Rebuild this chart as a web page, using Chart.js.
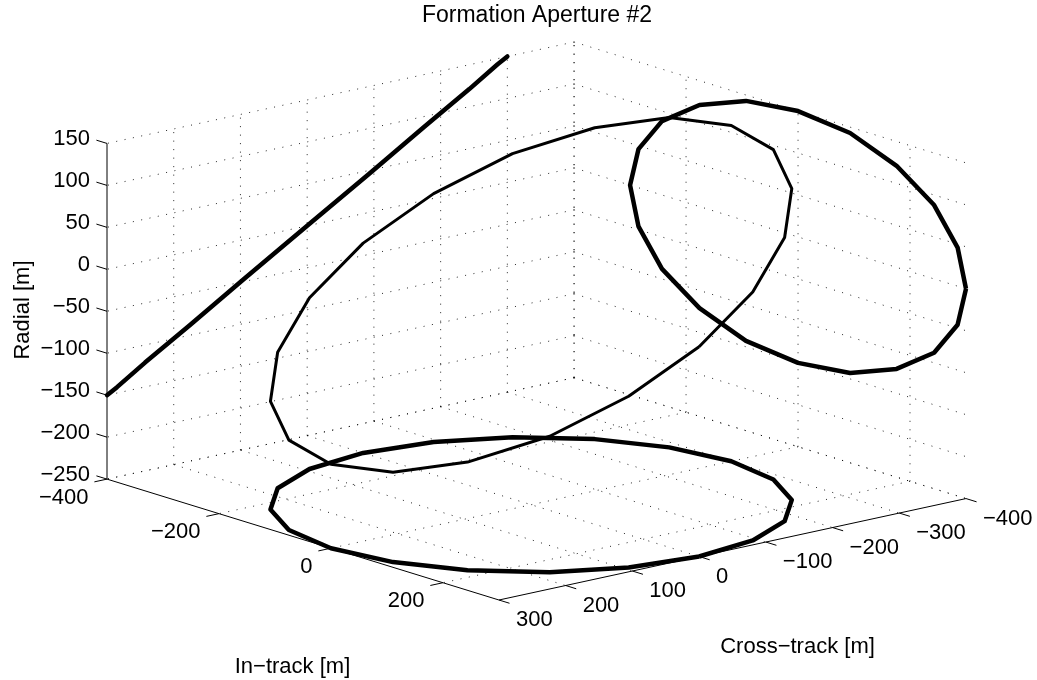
<!DOCTYPE html>
<html>
<head>
<meta charset="utf-8">
<script src="https://cdn.jsdelivr.net/npm/chart.js@4.4.0/dist/chart.umd.min.js"></script>
<style>
  html, body { margin: 0; padding: 0; background: #fff; }
  #wrap { width: 1037px; height: 680px; position: relative; }
</style>
</head>
<body>
<div id="wrap"><canvas id="c"></canvas></div>
<script>
// Relative orbit over one revolution, sampled every 18 degrees
const inTrack    = [300, 285, 243, 176, 93, 0, -93, -176, -243, -285, -300, -285, -243, -176, -93, 0, 93, 176, 243, 285, 300];
const crossTrack = [0, 93, 176, 243, 285, 300, 285, 243, 176, 93, 0, -93, -176, -243, -285, -300, -285, -243, -176, -93, 0];
const radial     = [0, -46, -88, -121, -143, -150, -143, -121, -88, -46, 0, 46, 88, 121, 143, 150, 143, 121, 88, 46, 0];

// Axis limits and ticks
const inTrackLim    = [-400, 300];
const crossTrackLim = [-400, 300];
const radialLim     = [-250, 150];
const inTrackTicks    = [-400, -200, 0, 200];
const crossTrackTicks = [-400, -300, -200, -100, 0, 100, 200, 300];
const radialTicks     = [-250, -200, -150, -100, -50, 0, 50, 100, 150];

// Texts
const titleText       = 'Formation Aperture #2';
const inTrackTitle    = 'In\u2212track [m]';
const crossTrackTitle = 'Cross\u2212track [m]';
const radialTitle     = 'Radial [m]';

// Camera: azimuth / elevation in degrees, plot-box aspect (in-track, cross-track, radial)
const AZ = 50, EL = 15;
const BOX = [1, 1, 0.57];
const DEG = Math.PI / 180;

function project(x, y, z) {
  const a = (x - inTrackLim[0]) / (inTrackLim[1] - inTrackLim[0]);
  const b = (crossTrackLim[1] - y) / (crossTrackLim[1] - crossTrackLim[0]);
  const c = (z - radialLim[0]) / (radialLim[1] - radialLim[0]);
  const ca = Math.cos(AZ * DEG), sa = Math.sin(AZ * DEG);
  const ce = Math.cos(EL * DEG), se = Math.sin(EL * DEG);
  return {
    x: BOX[0] * a * ca + BOX[1] * b * sa,
    y: -BOX[0] * a * sa * se + BOX[1] * b * ca * se + BOX[2] * c * ce
  };
}

// Projected extent of the plot box
const corners = [];
for (const x of inTrackLim) for (const y of crossTrackLim) for (const z of radialLim) corners.push(project(x, y, z));
const hMin = Math.min(...corners.map(p => p.x)), hMax = Math.max(...corners.map(p => p.x));
const vMin = Math.min(...corners.map(p => p.y)), vMax = Math.max(...corners.map(p => p.y));

const datasets = [];
const gridStyle = { borderColor: 'rgba(0,0,0,0.85)', borderWidth: 1, borderDash: [1, 7.5], order: 3 };
const axisStyle = { borderColor: '#000', borderWidth: 1, order: 2 };

function addLine(pts, style) {
  datasets.push(Object.assign({
    data: pts, showLine: true, pointRadius: 0, pointHoverRadius: 0,
    tension: 0, clip: false, fill: false, borderCapStyle: 'butt', borderJoinStyle: 'round'
  }, style));
}
function seg(p, q, style) { addLine([project(...p), project(...q)], style); }

const [x0, x1] = inTrackLim, [y0, y1] = crossTrackLim, [z0, z1] = radialLim;

// Floor grid (radial = min)
inTrackTicks.forEach(t => seg([t, y0, z0], [t, y1, z0], gridStyle));
crossTrackTicks.filter(t => t !== y1).forEach(t => seg([x0, t, z0], [x1, t, z0], gridStyle));
// Left back wall (in-track = min)
crossTrackTicks.filter(t => t !== y1).forEach(t => seg([x0, t, z0], [x0, t, z1], gridStyle));
radialTicks.forEach(t => seg([x0, y0, t], [x0, y1, t], gridStyle));
// Right back wall (cross-track = min)
inTrackTicks.forEach(t => seg([t, y0, z0], [t, y0, z1], gridStyle));
radialTicks.forEach(t => seg([x0, y0, t], [x1, y0, t], gridStyle));

// Axis lines and outward ticks
const TL = 0.027;
seg([x0, y1, z0], [x0, y1, z1], axisStyle);
seg([x0, y1, z0], [x1, y1, z0], axisStyle);
seg([x1, y1, z0], [x1, y0, z0], axisStyle);
radialTicks.forEach(t => seg([x0, y1, t], [x0 - TL * (x1 - x0), y1, t], axisStyle));
inTrackTicks.forEach(t => seg([t, y1, z0], [t, y1 + TL * (y1 - y0), z0], axisStyle));
crossTrackTicks.forEach(t => seg([x1, t, z0], [x1 + TL * (x1 - x0), t, z0], axisStyle));

// Projections of the orbit onto the floor and the two back walls
const thick = { borderColor: '#000', borderWidth: 4.5, order: 1 };
addLine(inTrack.map((v, i) => project(v, crossTrack[i], z0)), thick);
addLine(inTrack.map((v, i) => project(v, y0, radial[i])), thick);
addLine(inTrack.map((v, i) => project(x0, crossTrack[i], radial[i])), thick);
// The orbit itself
addLine(inTrack.map((v, i) => project(v, crossTrack[i], radial[i])), { borderColor: '#000', borderWidth: 3, order: 0 });

const FONT = '"Liberation Sans", Arial, Helvetica, sans-serif';
const fmt = v => (v < 0 ? '\u2212' + Math.abs(v) : String(v));

const textPlugin = {
  id: 'axisText',
  afterDraw(chart) {
    const ctx = chart.ctx, sx = chart.scales.x, sy = chart.scales.y;
    const px = (x, y, z) => { const p = project(x, y, z); return [sx.getPixelForValue(p.x), sy.getPixelForValue(p.y)]; };
    ctx.save();
    ctx.fillStyle = '#000';
    ctx.font = '22px ' + FONT;
    ctx.textBaseline = 'middle';
    // radial tick labels
    ctx.textAlign = 'right';
    radialTicks.forEach(t => { const [u, w] = px(x0, y1, t); ctx.fillText(fmt(t), u - 17, w - 4); });
    // in-track tick labels
    inTrackTicks.forEach(t => { const [u, w] = px(t, y1, z0); ctx.fillText(fmt(t), u - 18.5, w + 18.5); });
    // cross-track tick labels
    ctx.textAlign = 'left';
    crossTrackTicks.forEach(t => { const [u, w] = px(x1, t, z0); ctx.fillText(fmt(t), u + 17, w + 20); });
    // axis titles
    ctx.textAlign = 'center';
    ctx.fillText(inTrackTitle, 292.5, 667);
    ctx.fillText(crossTrackTitle, 797.5, 647);
    ctx.save();
    ctx.translate(22.5, 310);
    ctx.rotate(-Math.PI / 2);
    ctx.fillText(radialTitle, 0, 0);
    ctx.restore();
    ctx.font = '23px ' + FONT;
    ctx.fillText(titleText, 537, 16);
    ctx.restore();
  }
};

new Chart(document.getElementById('c'), {
  type: 'scatter',
  data: { datasets },
  options: {
    responsive: true,
    maintainAspectRatio: false,
    animation: false,
    events: [],
    layout: { autoPadding: false, padding: { left: 107, right: 71, top: 42, bottom: 80 } },
    scales: {
      x: { type: 'linear', display: false, min: hMin, max: hMax },
      y: { type: 'linear', display: false, min: vMin, max: vMax }
    },
    plugins: { legend: { display: false }, tooltip: { enabled: false }, title: { display: false } }
  },
  plugins: [textPlugin]
});
</script>
</body>
</html>
